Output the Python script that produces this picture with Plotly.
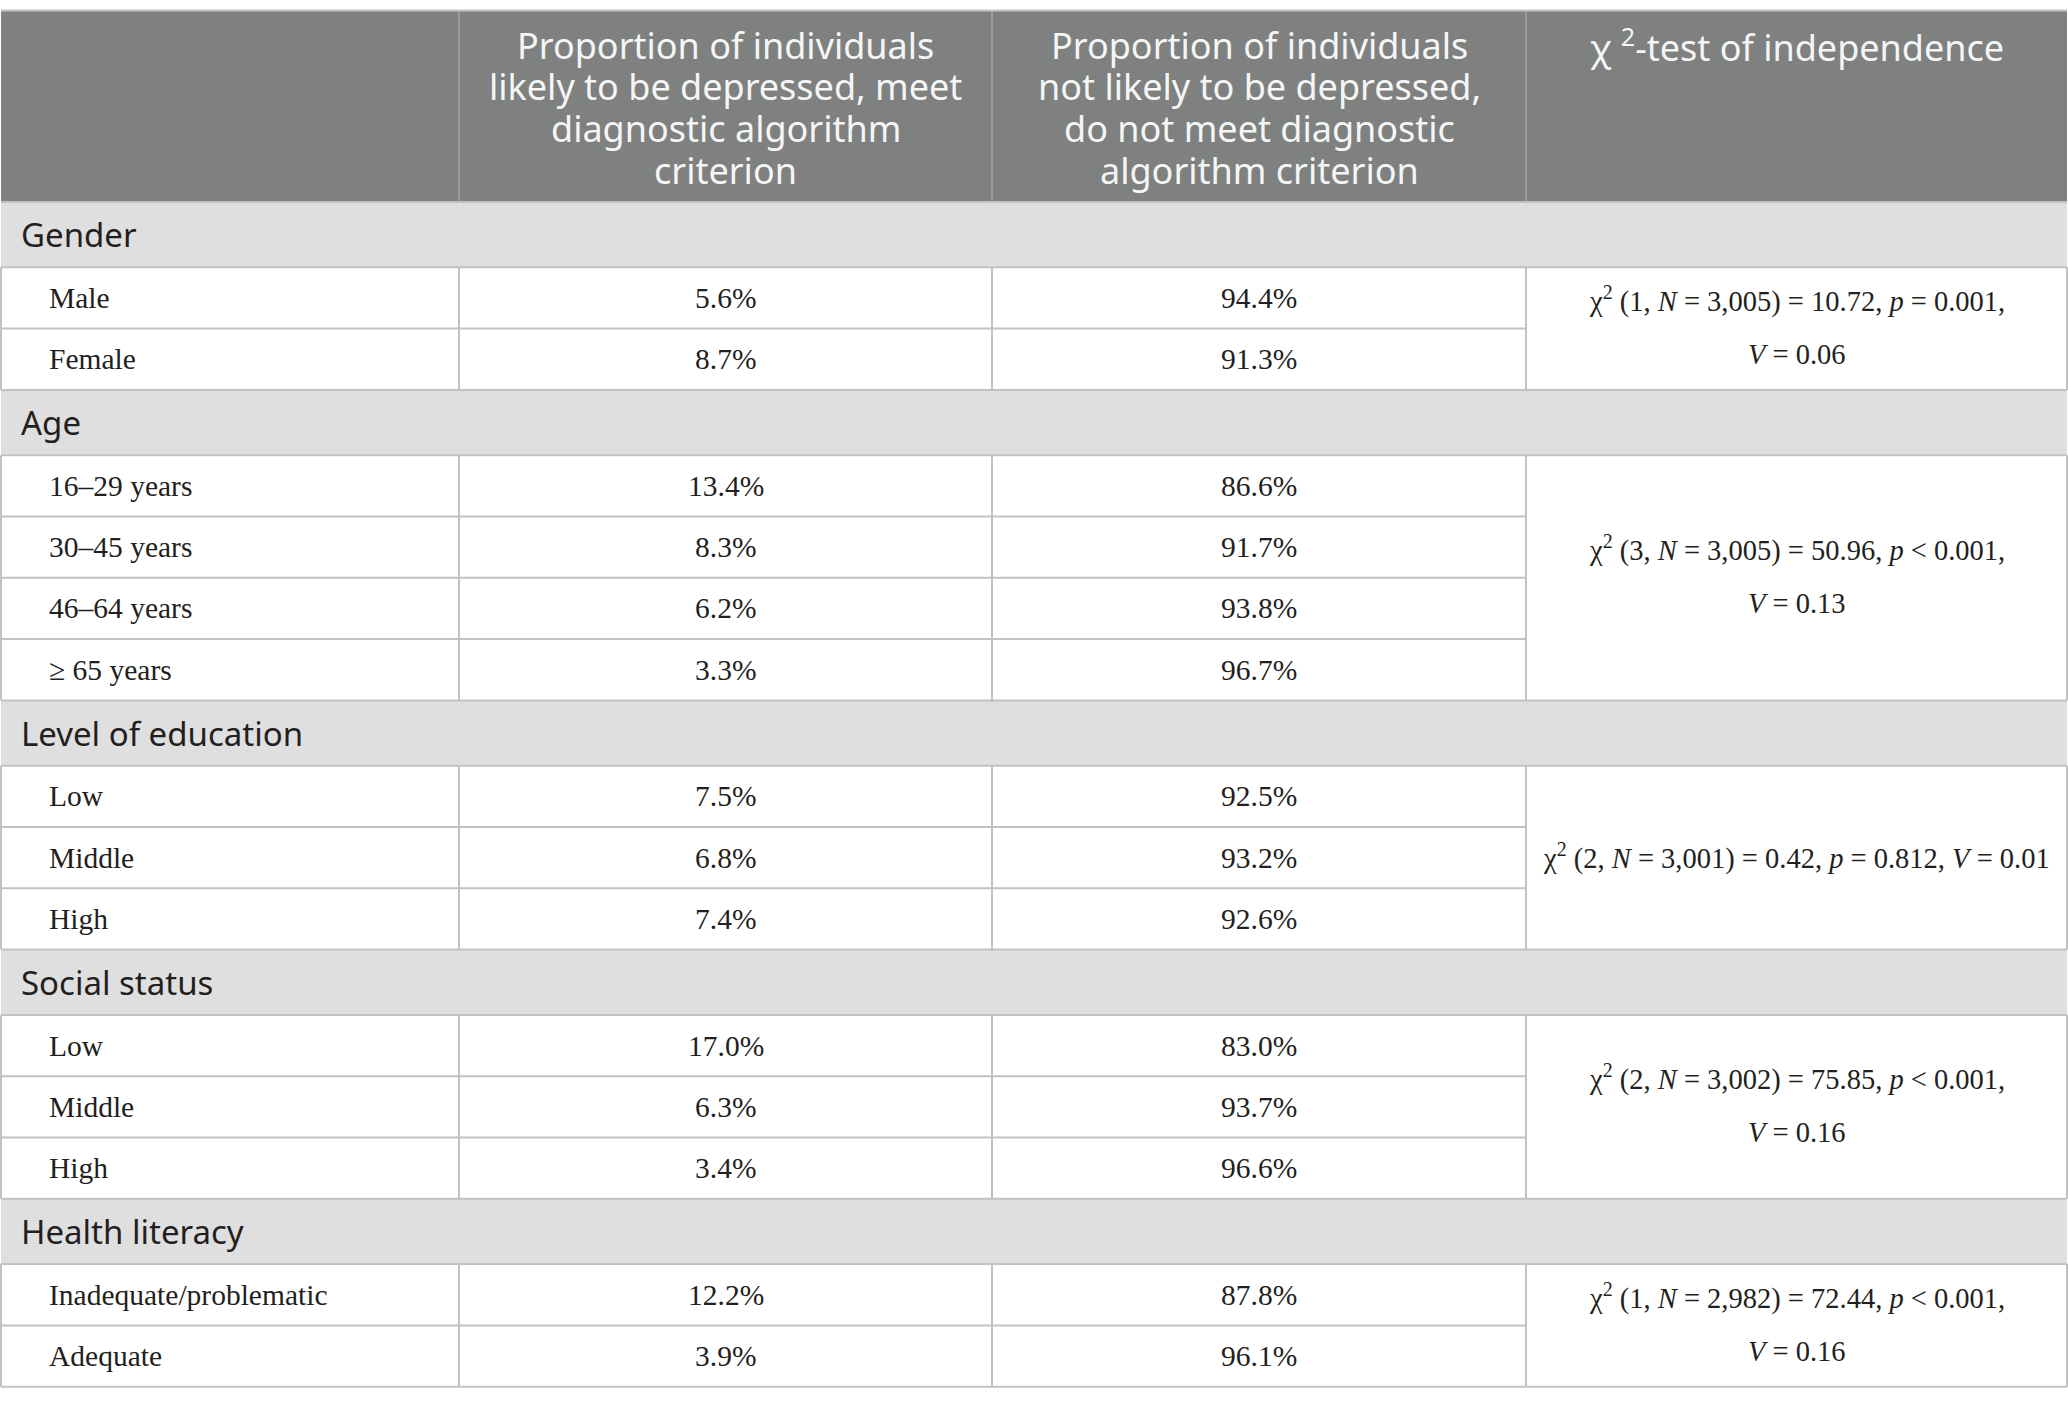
import plotly.graph_objects as go

# table content
header_labels = [
    "",
    "Proportion of individuals<br>likely to be depressed, meet<br>diagnostic algorithm<br>criterion",
    "Proportion of individuals<br>not likely to be depressed,<br>do not meet diagnostic<br>algorithm criterion",
    "χ <sup>2</sup>-test of independence",
]
groups = ["Gender", "Age", "Level of education", "Social status", "Health literacy"]
group_sizes = [2, 4, 3, 3, 2]
categories = [
    "Male", "Female",
    "16–29 years", "30–45 years", "46–64 years", "≥ 65 years",
    "Low", "Middle", "High",
    "Low", "Middle", "High",
    "Inadequate/problematic", "Adequate",
]
pct_depressed = [5.6, 8.7, 13.4, 8.3, 6.2, 3.3, 7.5, 6.8, 7.4, 17.0, 6.3, 3.4, 12.2, 3.9]
pct_not_depressed = [94.4, 91.3, 86.6, 91.7, 93.8, 96.7, 92.5, 93.2, 92.6, 83.0, 93.7, 96.6, 87.8, 96.1]
chi_df = [1, 3, 2, 2, 1]
chi_n = ["3,005", "3,005", "3,001", "3,002", "2,982"]
chi_stat = ["10.72", "50.96", "0.42", "75.85", "72.44"]
chi_p = ["= 0.001", "< 0.001", "= 0.812", "< 0.001", "< 0.001"]
cramers_v = ["0.06", "0.13", "0.01", "0.16", "0.16"]
chi_wrap = [True, True, False, True, True]

# geometry in pixels
W, H = 2068, 1406
col_edges = [1, 459, 992, 1526, 2067]
top = 10.5
header_h = 191.5
group_h = 65.3
row_h = 61.3
line_gap = 41.7

header_bg = "#7f8180"
header_fg = "#f5f5f5"
group_bg = "#e0dfe0"
border = "#c2c2c2"
text_dark = "#231f20"
sans = "Noto Sans"
serif = "Liberation Serif"

fig = go.Figure()
shapes = []
ann = []

# header
shapes.append(dict(type="rect", x0=col_edges[0], x1=col_edges[-1], y0=top, y1=top + header_h,
                   fillcolor=header_bg, line=dict(width=0), layer="below"))
for xe in col_edges[1:-1]:
    shapes.append(dict(type="line", x0=xe, x1=xe, y0=top, y1=top + header_h,
                       line=dict(color="#999b9a", width=2)))
for i, lab in enumerate(header_labels):
    cx = (col_edges[i] + col_edges[i + 1]) / 2
    for j, part in enumerate(lab.split("<br>")):
        if not part:
            continue
        ann.append(dict(x=cx, y=top + 34.5 + j * line_gap, text=part, showarrow=False,
                        xanchor="center", yanchor="middle",
                        font=dict(family=sans, size=36, color=header_fg)))

y = top + header_h
k = 0
for g, name in enumerate(groups):
    # group row
    shapes.append(dict(type="rect", x0=col_edges[0], x1=col_edges[-1], y0=y, y1=y + group_h,
                       fillcolor=group_bg, line=dict(width=0), layer="below"))
    shapes.append(dict(type="line", x0=col_edges[0], x1=col_edges[-1], y0=y, y1=y,
                       line=dict(color=border, width=2)))
    ann.append(dict(x=19, y=y + group_h / 2, text=name, showarrow=False,
                    xanchor="left", yanchor="middle",
                    font=dict(family=sans, size=33, color=text_dark)))
    y += group_h
    shapes.append(dict(type="line", x0=col_edges[0], x1=col_edges[-1], y0=y, y1=y,
                       line=dict(color=border, width=2)))
    block_top = y
    n = group_sizes[g]
    for r in range(n):
        cy = y + row_h / 2
        ann.append(dict(x=47, y=cy, text=categories[k], showarrow=False,
                        xanchor="left", yanchor="middle",
                        font=dict(family=serif, size=29.5, color=text_dark)))
        ann.append(dict(x=(col_edges[1] + col_edges[2]) / 2, y=cy, text=f"{pct_depressed[k]:.1f}%",
                        showarrow=False, xanchor="center", yanchor="middle",
                        font=dict(family=serif, size=29.5, color=text_dark)))
        ann.append(dict(x=(col_edges[2] + col_edges[3]) / 2, y=cy, text=f"{pct_not_depressed[k]:.1f}%",
                        showarrow=False, xanchor="center", yanchor="middle",
                        font=dict(family=serif, size=29.5, color=text_dark)))
        y += row_h
        k += 1
        if r < n - 1:
            shapes.append(dict(type="line", x0=col_edges[0], x1=col_edges[3], y0=y, y1=y,
                               line=dict(color=border, width=2)))
    for xe in col_edges:
        shapes.append(dict(type="line", x0=xe, x1=xe, y0=block_top, y1=y,
                           line=dict(color=border, width=2)))
    # chi-square test text
    first = (f"χ<sup>2</sup> ({chi_df[g]}, <i>N</i> = {chi_n[g]}) = {chi_stat[g]}, "
             f"<i>p</i> {chi_p[g]},")
    second = f"<i>V</i> = {cramers_v[g]}"
    cx = (col_edges[3] + col_edges[4]) / 2
    mid = (block_top + y) / 2
    if chi_wrap[g]:
        lines = [(first, mid - 29), (second, mid + 26)]
    else:
        lines = [(first + " " + second, mid - 1)]
    for txt, ty in lines:
        ann.append(dict(x=cx, y=ty, text=txt, showarrow=False, xanchor="center", yanchor="middle",
                        font=dict(family=serif, size=28.5, color=text_dark)))

shapes.append(dict(type="line", x0=col_edges[0], x1=col_edges[-1], y0=y, y1=y,
                   line=dict(color=border, width=2)))
shapes.append(dict(type="line", x0=col_edges[0], x1=col_edges[-1], y0=top, y1=top,
                   line=dict(color=border, width=2)))

fig.update_layout(
    width=W, height=H,
    margin=dict(l=0, r=0, t=0, b=0),
    paper_bgcolor="white", plot_bgcolor="white",
    xaxis=dict(range=[0, W], visible=False, fixedrange=True),
    yaxis=dict(range=[H, 0], visible=False, fixedrange=True),
    shapes=shapes, annotations=ann,
    showlegend=False,
)

# drop the default page margin so the table sits flush with the window edge
fig.write_html("out.html", config={"displayModeBar": False},
               post_script="document.body.style.margin = '0';")
